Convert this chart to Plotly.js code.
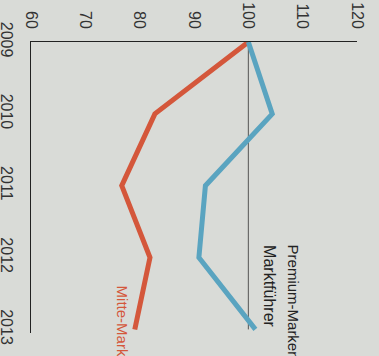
<!DOCTYPE html>
<html>
<head>
<meta charset="utf-8">
<script src="https://cdn.plot.ly/plotly-3.0.1.min.js"></script>
<style>html,body{margin:0;padding:0;background:#d9dbd7;}#chart{width:379px;height:356px;}</style>
</head>
<body>
<div id="chart"></div>
<script>
// Data (chart is shown rotated: values across the top, years down the left side)
const years = [2009, 2010, 2011, 2012, 2013];
const premiumMarktfuehrer = [100, 104.4, 92.1, 90.9, 101.3];
const mitteMarken = [100, 82.8, 76.7, 81.9, 79.1];
const valueTicks = [60, 70, 80, 90, 100, 110, 120];
const yearTicks = ['2009', '2010', '2011', '2012', '2013'];
const labelPremium = 'Premium-Marken';
const labelMarktfuehrer = 'Marktführer';
const labelMitte = 'Mitte-Marken';

const blue = '#5aa4c0';
const red = '#d4573b';

const traces = [
  {x: mitteMarken, y: years, type: 'scatter', mode: 'lines',
   line: {color: red, width: 5}, hoverinfo: 'skip', cliponaxis: false},
  {x: premiumMarktfuehrer, y: years, type: 'scatter', mode: 'lines',
   line: {color: blue, width: 5}, hoverinfo: 'skip', cliponaxis: false}
];

const tickFont = {family: 'Liberation Sans, Arial, sans-serif', size: 16, color: '#333'};

const layout = {
  width: 379, height: 356,
  margin: {l: 31, r: 22, t: 42, b: 23},
  paper_bgcolor: '#d9dbd7',
  plot_bgcolor: '#d9dbd7',
  showlegend: false,
  xaxis: {
    range: [60, 120], side: 'top', tickvals: valueTicks, ticktext: valueTicks.map(String),
    tickangle: 90, tickfont: tickFont, showgrid: false, zeroline: false,
    showline: true, linecolor: '#222', linewidth: 1.5, ticks: '', ticklabelstandoff: 6
  },
  yaxis: {
    range: [2013.05, 2009], tickvals: years, ticktext: yearTicks,
    tickangle: 90, tickfont: tickFont, showgrid: false, zeroline: false,
    showline: true, linecolor: '#222', linewidth: 1.5, ticks: '', ticklabelstandoff: 9
  },
  shapes: [
    {type: 'line', xref: 'x', yref: 'y', x0: 100, x1: 100, y0: years[0], y1: years[years.length - 1],
     line: {color: '#555', width: 1}, layer: 'below'}
  ],
  annotations: [
    {xref: 'x', yref: 'y', x: 108.3, y: 2011.79, text: labelPremium, textangle: 90,
     showarrow: false, xanchor: 'center', yanchor: 'top',
     font: {family: 'Liberation Sans, Arial, sans-serif', size: 15, color: '#222'}},
    {xref: 'x', yref: 'y', x: 104.0, y: 2011.8, text: labelMarktfuehrer, textangle: 90,
     showarrow: false, xanchor: 'center', yanchor: 'top',
     font: {family: 'Liberation Sans, Arial, sans-serif', size: 16, color: '#222'}},
    {xref: 'x', yref: 'y', x: 76.9, y: 2012.36, text: labelMitte, textangle: 90,
     showarrow: false, xanchor: 'center', yanchor: 'top',
     font: {family: 'Liberation Sans, Arial, sans-serif', size: 15, color: red}}
  ]
};

Plotly.newPlot('chart', traces, layout, {staticPlot: true, displayModeBar: false});
</script>
</body>
</html>
